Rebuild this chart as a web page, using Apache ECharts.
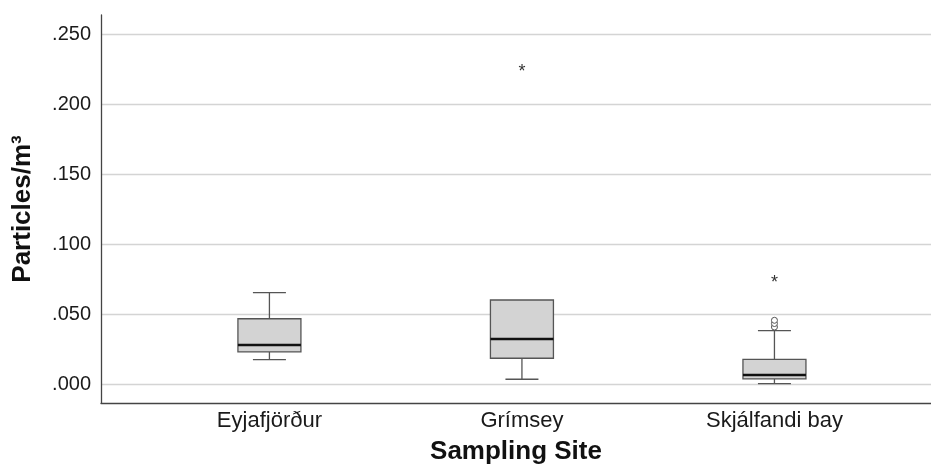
<!DOCTYPE html>
<html>
<head>
<meta charset="utf-8">
<script src="https://cdn.jsdelivr.net/npm/echarts@6/dist/echarts.min.js"></script>
<style>html,body{margin:0;padding:0;background:#fff;}#c{width:931px;height:473px;}</style>
</head>
<body>
<div id="c"></div>
<script>
// Categories (x positions 0,1,2)
const categories = ['Eyjafjörður', 'Grímsey', 'Skjálfandi bay'];
// Box statistics: [min whisker, Q1, median, Q3, max whisker]
const boxStats = [
  [0.0174, 0.0229, 0.0279, 0.0466, 0.0652],
  [0.0034, 0.0184, 0.0321, 0.0600, 0.0600],
  [0.0003, 0.0036, 0.0064, 0.0176, 0.0381]
];
// Outliers (circles): [categoryIndex, value]
const outliers = [
  [2, 0.0407], [2, 0.0432], [2, 0.0455]
];
// Extreme values (asterisks): [categoryIndex, value]
const extremes = [
  [1, 0.2255], [2, 0.0750]
];
// Y tick labels
const yTicks = [0, 0.05, 0.10, 0.15, 0.20, 0.25];

const boxData = boxStats.map((s, i) => [i].concat(s));
const pointData = outliers.map(p => [p[0], p[1], 0]).concat(extremes.map(p => [p[0], p[1], 1]));

const chart = echarts.init(document.getElementById('c'), null, {renderer: 'canvas'});
const FONT = 'Liberation Sans, Arial, sans-serif';
const LINE = '#555555';

function renderBox(params, api) {
  const x = api.value(0);
  const lo = api.coord([x, api.value(1)]);
  const q1 = api.coord([x, api.value(2)]);
  const md = api.coord([x, api.value(3)]);
  const q3 = api.coord([x, api.value(4)]);
  const hi = api.coord([x, api.value(5)]);
  const cx = lo[0];
  const bw = 63, cw = 33;
  const children = [];
  const wStyle = {stroke: LINE, lineWidth: 1.3};
  if (hi[1] < q3[1] - 0.5) {
    children.push({type: 'line', shape: {x1: cx, y1: q3[1], x2: cx, y2: hi[1]}, style: wStyle});
    children.push({type: 'line', shape: {x1: cx - cw / 2, y1: hi[1], x2: cx + cw / 2, y2: hi[1]}, style: wStyle});
  }
  children.push({type: 'line', shape: {x1: cx, y1: q1[1], x2: cx, y2: lo[1]}, style: wStyle});
  children.push({type: 'line', shape: {x1: cx - cw / 2, y1: lo[1], x2: cx + cw / 2, y2: lo[1]}, style: wStyle});
  children.push({type: 'rect', shape: {x: cx - bw / 2, y: q3[1], width: bw, height: q1[1] - q3[1]},
    style: {fill: '#d3d3d3', stroke: LINE, lineWidth: 1.3}});
  children.push({type: 'line', shape: {x1: cx - bw / 2, y1: md[1], x2: cx + bw / 2, y2: md[1]},
    style: {stroke: '#111', lineWidth: 2.4}});
  return {type: 'group', children: children};
}

function renderPoint(params, api) {
  const p = api.coord([api.value(0), api.value(1)]);
  if (api.value(2) === 0) {
    return {type: 'circle', shape: {cx: p[0], cy: p[1], r: 3},
      style: {fill: '#ffffff', stroke: LINE, lineWidth: 1}};
  }
  return {type: 'text', x: p[0], y: p[1] + 4,
    style: {text: '*', fontFamily: FONT, fontSize: 18, fill: '#333', align: 'center', verticalAlign: 'middle'}};
}

chart.setOption({
  animation: false,
  backgroundColor: '#ffffff',
  grid: {left: 101, right: 0, top: 15, bottom: 70, containLabel: false},
  xAxis: {
    type: 'value',
    min: -0.667,
    max: 2.62,
    name: 'Sampling Site',
    nameLocation: 'middle',
    nameGap: 36,
    nameTextStyle: {fontFamily: FONT, fontSize: 26, fontWeight: 'bold', color: '#111'},
    axisLine: {show: true, onZero: false, lineStyle: {color: '#444', width: 1.3}},
    axisTick: {show: false},
    splitLine: {show: false},
    axisLabel: {
      customValues: [0, 1, 2],
      formatter: v => categories[Math.round(v)] || '',
      fontFamily: FONT, fontSize: 22, color: '#1a1a1a', margin: 7
    }
  },
  yAxis: {
    type: 'value',
    min: -0.01357,
    max: 0.26357,
    name: 'Particles/m³',
    nameLocation: 'middle',
    nameGap: 65,
    nameTextStyle: {fontFamily: FONT, fontSize: 26, fontWeight: 'bold', color: '#111'},
    axisLine: {show: true, onZero: false, lineStyle: {color: '#444', width: 1.3}},
    axisTick: {show: false, customValues: yTicks},
    splitLine: {show: true, lineStyle: {color: '#d4d4d4', width: 1.3}},
    axisLabel: {
      customValues: yTicks,
      formatter: v => v.toFixed(3).replace(/^0/, ''),
      fontFamily: FONT, fontSize: 20, color: '#1a1a1a', margin: 10
    }
  },
  series: [
    {
      type: 'custom',
      renderItem: renderBox,
      data: boxData,
      encode: {x: 0, y: [1, 2, 3, 4, 5]},
      z: 3
    },
    {
      type: 'custom',
      renderItem: renderPoint,
      data: pointData,
      encode: {x: 0, y: 1},
      z: 4
    }
  ]
});
</script>
</body>
</html>
